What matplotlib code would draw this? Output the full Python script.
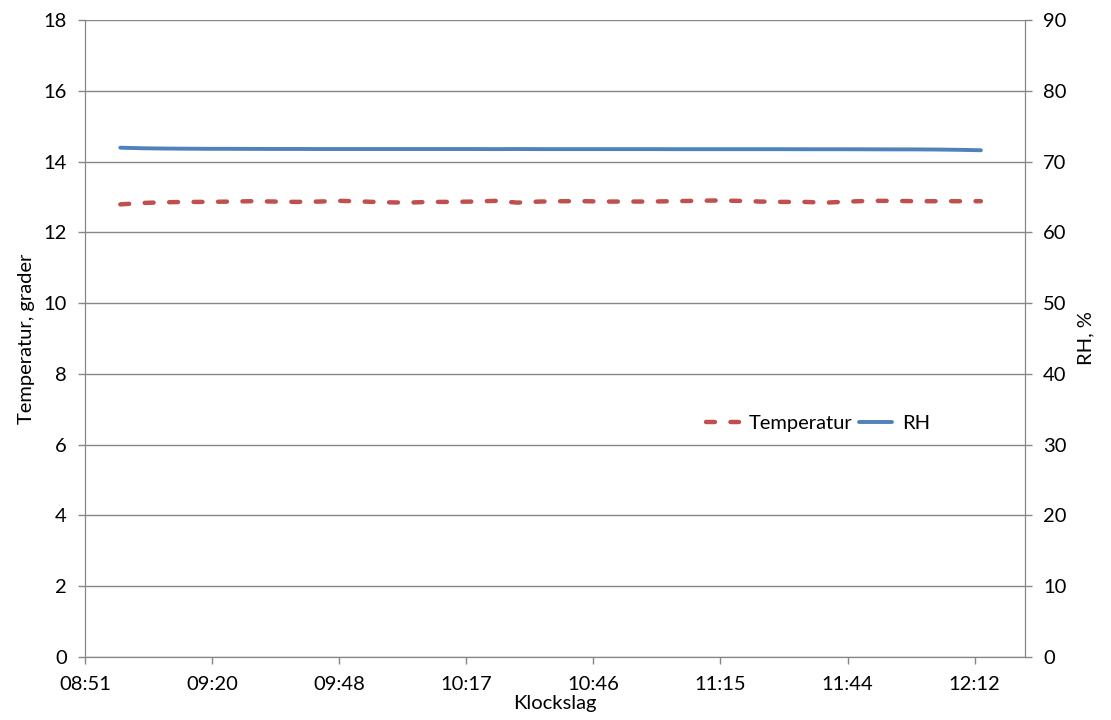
import matplotlib.pyplot as plt
import numpy as np

plt.rcParams["font.family"] = ["Lato", "DejaVu Sans"]

# time of day in minutes since midnight (08:59 -> 12:14, every 5 min)
minutes = np.arange(539, 735, 5)

temperatur = [12.79, 12.83, 12.85, 12.86, 12.86, 12.87, 12.88, 12.87, 12.86, 12.87,
              12.89, 12.87, 12.85, 12.84, 12.86, 12.86, 12.87, 12.89, 12.84, 12.87,
              12.88, 12.88, 12.87, 12.87, 12.87, 12.88, 12.89, 12.90, 12.89, 12.87,
              12.86, 12.86, 12.84, 12.87, 12.89, 12.89, 12.88, 12.88, 12.88, 12.88]

rh = [71.96, 71.88, 71.84, 71.82, 71.80, 71.80, 71.79, 71.78, 71.78, 71.77,
      71.77, 71.77, 71.77, 71.77, 71.77, 71.77, 71.77, 71.76, 71.77, 71.76,
      71.76, 71.76, 71.76, 71.76, 71.76, 71.75, 71.75, 71.75, 71.75, 71.75,
      71.75, 71.74, 71.74, 71.74, 71.73, 71.72, 71.72, 71.70, 71.66, 71.60]

tick_minutes = 531 + 28.8 * np.arange(8)
tick_labels = ["08:51", "09:20", "09:48", "10:17", "10:46", "11:15", "11:44", "12:12"]

grey = "#868686"
fs = 14.5

fig = plt.figure(figsize=(11.11, 7.2), dpi=100)
ax = fig.add_axes([0.0765, 0.0875, 0.8461, 0.8847])
ax2 = ax.twinx()

l1, = ax.plot(minutes, temperatur, color="#C0504D", linewidth=3.2,
              dashes=(2.0, 3.5), dash_capstyle="round", label="Temperatur")
l2, = ax2.plot(minutes, rh, color="#4F81BD", linewidth=2.8,
               solid_capstyle="round", label="RH")

ax.set_xlim(531, 744)
ax.set_ylim(0, 18)
ax.set_yticks(np.arange(0, 19, 2))
ax2.set_ylim(0, 90)
ax2.set_yticks(np.arange(0, 91, 10))
ax.set_xticks(tick_minutes)
ax.set_xticklabels(tick_labels)

ax.grid(axis="y", color=grey, linewidth=1.0)
ax.set_axisbelow(True)

for a in (ax, ax2):
    for s in a.spines.values():
        s.set_color(grey)
    a.spines["top"].set_visible(False)
    a.tick_params(colors=grey, labelcolor="black", labelsize=fs, length=5, width=1)
ax.tick_params(axis="x", pad=9)
ax.tick_params(axis="y", pad=8)
ax2.tick_params(axis="y", pad=8)

ax.set_xlabel("Klockslag", fontsize=fs, labelpad=1)
ax.set_ylabel("Temperatur, grader", fontsize=fs, labelpad=6)
ax2.set_ylabel("RH, %", fontsize=fs, labelpad=8)

ax.legend(handles=[l1, l2], loc="center", bbox_to_anchor=(0.78, 0.366), ncol=2,
          frameon=False, fontsize=fs, handlelength=1.65, columnspacing=0.3,
          handletextpad=0.5)

fig.savefig("out.png", dpi=100)
